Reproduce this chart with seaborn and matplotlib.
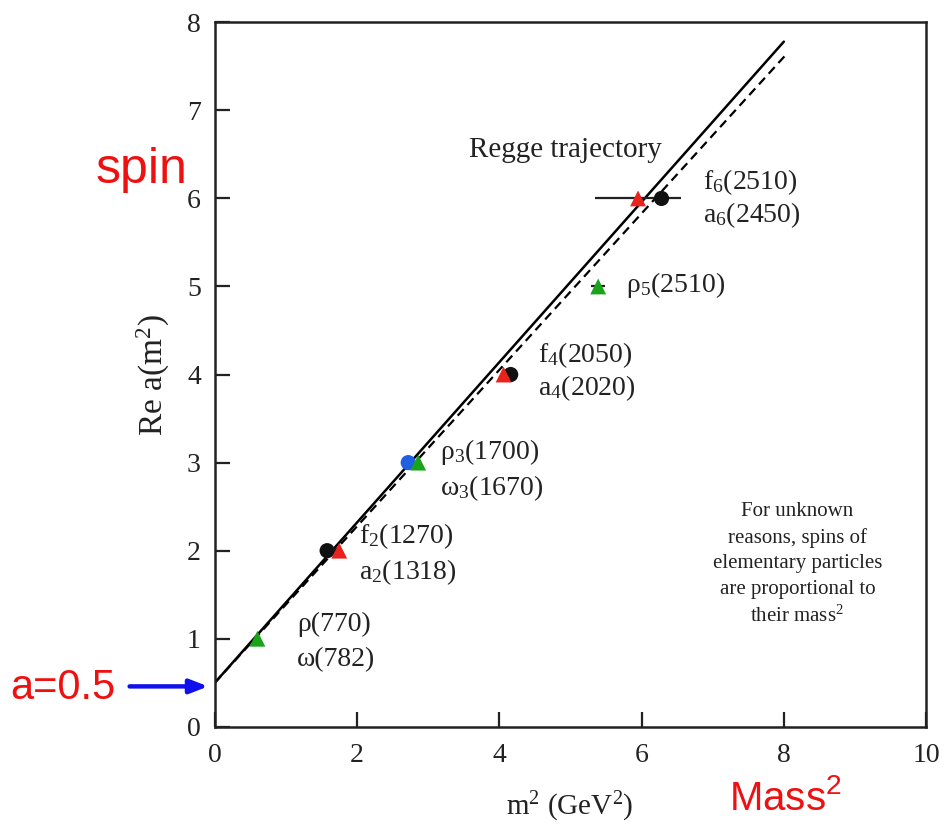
import matplotlib
matplotlib.use("Agg")
import matplotlib.pyplot as plt
import seaborn as sns
import pandas as pd

# Meson states on the leading Regge trajectory
circle_m2 = [1.58, 2.72, 4.16, 6.28]
circle_spin = [2, 3, 4, 6]
circle_colors = ["#111111", "#1f5fe0", "#111111", "#111111"]

tri_m2 = [0.60, 1.75, 2.86, 4.06, 5.39, 5.95]
tri_spin = [1, 2, 3, 4, 5, 6]
tri_colors = ["#19a319", "#e8231c", "#19a319", "#e8231c", "#19a319", "#e8231c"]

# horizontal uncertainties (GeV^2)
err_m2 = [5.39, 5.95]
err_spin = [5, 6]
err_half = [0.10, 0.61]

# trajectory fits (endpoints)
fit_m2 = [0.0, 8.0]
fit_spin = [0.5, 7.78]
fit2_m2 = [0.0, 8.05]
fit2_spin = [0.5, 7.65]

labels = [
    (6.86, 6.19, "f$_6$(2510)"), (6.86, 5.81, "a$_6$(2450)"),
    (5.78, 5.02, "ρ$_5$(2510)"),
    (4.55, 4.22, "f$_4$(2050)"), (4.55, 3.85, "a$_4$(2020)"),
    (3.17, 3.12, "ρ$_3$(1700)"), (3.17, 2.71, "ω$_3$(1670)"),
    (2.03, 2.16, "f$_2$(1270)"), (2.03, 1.76, "a$_2$(1318)"),
    (1.16, 1.16, "ρ(770)"), (1.16, 0.76, "ω(782)"),
]

sns.set_theme(style="white")
serif = ["Liberation Serif", "DejaVu Serif"]
plt.rcParams["font.family"] = serif
plt.rcParams["mathtext.default"] = "regular"

fig = plt.figure(figsize=(9.46, 8.25), dpi=100)
ax = fig.add_axes([0.227, 0.119, 0.752, 0.854])

fit_df = pd.DataFrame({"m2": fit_m2, "spin": fit_spin})
fit2_df = pd.DataFrame({"m2": fit2_m2, "spin": fit2_spin})
sns.lineplot(data=fit_df, x="m2", y="spin", ax=ax, color="black", lw=1.8)
sns.lineplot(data=fit2_df, x="m2", y="spin", ax=ax, color="black", lw=1.6,
             linestyle=(0, (4, 2.5)))

ax.errorbar(err_m2, err_spin, xerr=err_half, fmt="none", ecolor="#222222",
            elinewidth=1.6, capsize=0, zorder=2)

circ_df = pd.DataFrame({"m2": circle_m2, "spin": circle_spin, "c": circle_colors})
tri_df = pd.DataFrame({"m2": tri_m2, "spin": tri_spin, "c": tri_colors})
sns.scatterplot(data=circ_df, x="m2", y="spin", ax=ax, c=circ_df["c"],
                marker="o", s=120, edgecolor="none", zorder=4)
sns.scatterplot(data=tri_df, x="m2", y="spin", ax=ax, c=tri_df["c"],
                marker="^", s=130, edgecolor="none", zorder=5)

for x, y, t in labels:
    ax.text(x, y, t, fontsize=20, ha="left", va="center", color="#222222")

ax.text(4.93, 6.55, "Regge trajectory", fontsize=21, ha="center", va="center",
        color="#222222")
ax.text(8.19, 1.84,
        "For unknown\nreasons, spins of\nelementary particles\nare proportional to\ntheir mass$^2$",
        fontsize=15, ha="center", va="center", linespacing=1.45, color="#222222")

ax.set_xlim(0, 10)
ax.set_ylim(0, 8)
ax.set_xticks([0, 2, 4, 6, 8, 10])
ax.set_yticks(range(0, 9))
ax.tick_params(direction="in", length=11, width=1.6, labelsize=20,
               colors="#222222", left=True, bottom=True)
ax.tick_params(axis="x", pad=12)
ax.tick_params(axis="y", pad=10)
for sp in ax.spines.values():
    sp.set_linewidth(1.8)
    sp.set_color("#222222")
ax.set_xlabel("")
ax.set_ylabel("")

fig.text(0.602, 0.022, "m$^2$ (GeV$^2$)", fontsize=21, ha="center", va="center",
         color="#222222")
fig.text(0.162, 0.545, "Re a(m$^2$)", fontsize=24, ha="center", va="center",
         rotation=90, color="#222222")

sans = ["Liberation Sans", "DejaVu Sans"]
fig.text(0.150, 0.794, "spin", fontsize=36, color="#ee1111", ha="center",
         va="center", family=sans)
fig.text(0.066, 0.166, "a=0.5", fontsize=30, color="#ee1111", ha="center",
         va="center", family=sans)
fig.text(0.830, 0.032, "Mass$^2$", fontsize=29, color="#ee1111", ha="center",
         va="center", family=sans)

ax.annotate("", xy=(0.220, 0.168), xycoords="figure fraction",
            xytext=(0.137, 0.168), textcoords="figure fraction",
            arrowprops=dict(arrowstyle="-|>,head_length=0.9,head_width=0.35",
                            color="#1010ee", lw=3.2, shrinkA=0, shrinkB=0),
            annotation_clip=False)

fig.savefig("out.png", dpi=100)
